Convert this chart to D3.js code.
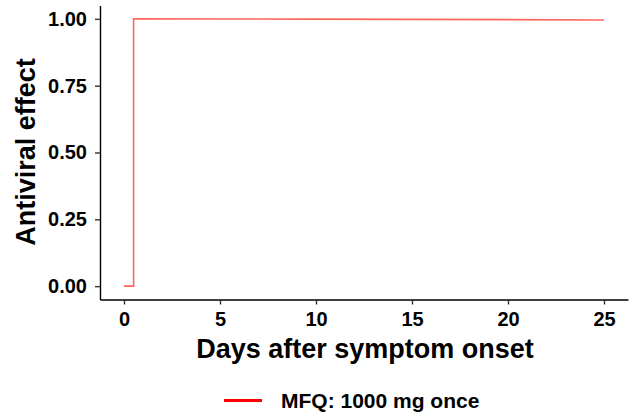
<!DOCTYPE html>
<html>
<head>
<meta charset="utf-8">
<script src="https://cdn.jsdelivr.net/npm/d3@7"></script>
<style>
	body { margin: 0; background: #fff; }
	text { font-family: "Liberation Sans", Arial, sans-serif; font-weight: bold; }
</style>
</head>
<body>
<svg id="chart" width="638" height="419"></svg>
<script>
// values
let days = [0, 0.5, 0.5, 5, 10, 15, 20, 25]
let effect = [0, 0, 1, 0.9995, 0.999, 0.998, 0.997, 0.996]
let xTicks = [0, 5, 10, 15, 20, 25]
let yTicks = [0, 0.25, 0.5, 0.75, 1]
let seriesName = 'MFQ: 1000 mg once'

let svg = d3.select('#chart')

let xScale = d3.scaleLinear()
	.domain([-1.25, 26.25])
	.range([100, 628])

let yScale = d3.scaleLinear()
	.domain([-0.05, 1.05])
	.range([299.5, 5.5])

function styleAxis(g) {
	g.select('.domain').attr('stroke', '#000').attr('stroke-width', 1.4)
	g.selectAll('.tick line').attr('stroke', '#333').attr('stroke-width', 1.4)
	g.selectAll('.tick text')
		.attr('fill', '#000')
		.style('font-size', '20px')
		.style('font-family', '"Liberation Sans", Arial, sans-serif')
		.style('font-weight', 'bold')
}

function drawAxis() {
	let bottomAxisG = svg.append('g')
		.attr('transform', 'translate(0, 299.5)')
		.call(d3.axisBottom(xScale).tickValues(xTicks).tickSize(5).tickPadding(7).tickSizeOuter(0))
	styleAxis(bottomAxisG)

	let leftAxisG = svg.append('g')
		.attr('transform', 'translate(100, 0)')
		.call(d3.axisLeft(yScale).tickValues(yTicks).tickFormat(d3.format('.2f')).tickSize(5).tickPadding(8).tickSizeOuter(0))
	styleAxis(leftAxisG)

	svg.append('text')
		.attr('x', 365)
		.attr('y', 358)
		.attr('text-anchor', 'middle')
		.style('font-size', '27px')
		.text('Days after symptom onset')

	svg.append('text')
		.attr('transform', 'translate(35, 152) rotate(-90)')
		.attr('text-anchor', 'middle')
		.style('font-size', '27px')
		.text('Antiviral effect')
}

function drawLine() {
	let points = days.map((d, i) => [d, effect[i]])
	let line = d3.line()
		.x(d => xScale(d[0]))
		.y(d => yScale(d[1]))
	svg.append('path')
		.datum(points)
		.attr('d', line)
		.attr('fill', 'none')
		.attr('stroke', '#ff4a3d')
		.attr('stroke-opacity', 0.85)
		.attr('stroke-width', 1.6)
}

function drawLegend() {
	let legendG = svg.append('g').attr('transform', 'translate(224, 400.5)')
	legendG.append('line')
		.attr('x1', 0).attr('x2', 38)
		.attr('stroke', 'red')
		.attr('stroke-width', 3)
	legendG.append('text')
		.attr('x', 57)
		.attr('y', 7)
		.style('font-size', '21px')
		.text(seriesName)
}

drawAxis()
drawLine()
drawLegend()
</script>
</body>
</html>
